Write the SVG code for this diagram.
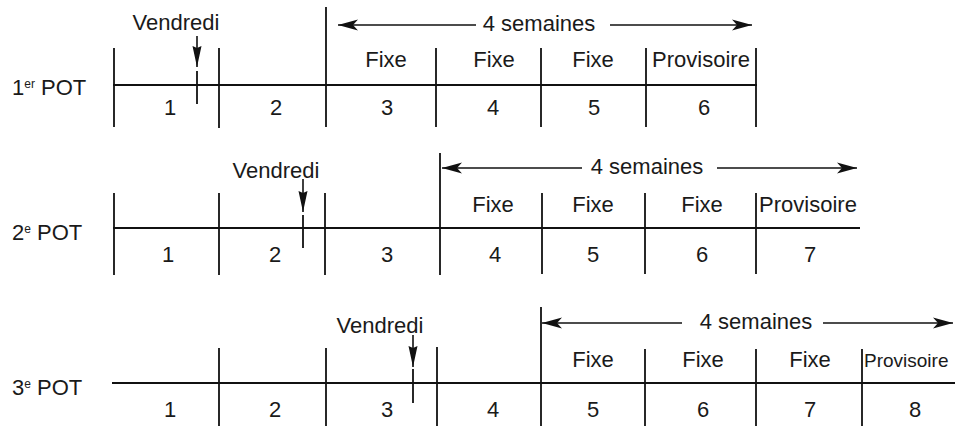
<svg xmlns="http://www.w3.org/2000/svg" width="955" height="426" viewBox="0 0 955 426">
<style>
  .ln { stroke: #111; stroke-width: 1.8; fill: none; }
  .ar { stroke: #111; stroke-width: 1.6; fill: none; marker-end: url(#big); }
  .vd { stroke: #111; stroke-width: 1.6; fill: none; marker-end: url(#small); }
  text { font-family: "Liberation Sans", Arial, sans-serif; font-size: 22px; fill: #1a1a1a; }
  .c { text-anchor: middle; }
  .sup { font-size: 12px; }
  .edge { font-size: 19px; }
</style>
<defs>
  <marker id="big" viewBox="0 0 20 12" refX="20" refY="6" markerWidth="20" markerHeight="12" orient="auto" markerUnits="userSpaceOnUse">
    <path d="M0,0.5 L20,6 L0,11.5 L5,6 Z" fill="#111"/>
  </marker>
  <marker id="small" viewBox="0 0 10 21" refX="5" refY="21" markerWidth="10" markerHeight="21" orient="0" markerUnits="userSpaceOnUse">
    <path d="M0.5,0 L5,2 L9.5,0 L5,21 Z" fill="#111"/>
  </marker>
</defs>

<g id="row1">
  <text x="12" y="95">1<tspan class="sup" dy="-7">er</tspan><tspan dy="7"> POT</tspan></text>
  <line class="ln" x1="113" y1="85" x2="757" y2="85"/>
  <line class="ln" x1="114" y1="48" x2="114" y2="127"/>
  <line class="ln" x1="219" y1="48" x2="219" y2="128"/>
  <line class="ln" x1="326" y1="7" x2="326" y2="127"/>
  <line class="ln" x1="436" y1="48" x2="436" y2="127"/>
  <line class="ln" x1="541" y1="48" x2="541" y2="127"/>
  <line class="ln" x1="646" y1="48" x2="646" y2="127"/>
  <line class="ln" x1="756" y1="48" x2="756" y2="127"/>
  <line class="ln" x1="197" y1="71" x2="197" y2="104"/>
  <text class="c" x="176" y="30">Vendredi</text>
  <text class="c" x="539" y="31">4 semaines</text>
  <text class="c" x="386" y="67">Fixe</text>
  <text class="c" x="494" y="67">Fixe</text>
  <text class="c" x="593" y="67">Fixe</text>
  <text class="c" x="701" y="67">Provisoire</text>
  <text class="c" x="170" y="115">1</text>
  <text class="c" x="276" y="115">2</text>
  <text class="c" x="387" y="115">3</text>
  <text class="c" x="493" y="115">4</text>
  <text class="c" x="594" y="115">5</text>
  <text class="c" x="704" y="115">6</text>
</g>

<g id="row2">
  <text x="12" y="240">2<tspan class="sup" dy="-7">e</tspan><tspan dy="7"> POT</tspan></text>
  <line class="ln" x1="113" y1="228" x2="860" y2="228"/>
  <line class="ln" x1="114" y1="193" x2="114" y2="275"/>
  <line class="ln" x1="219" y1="193" x2="219" y2="275"/>
  <line class="ln" x1="325" y1="193" x2="325" y2="275"/>
  <line class="ln" x1="440" y1="153" x2="440" y2="275"/>
  <line class="ln" x1="542" y1="193" x2="542" y2="274"/>
  <line class="ln" x1="645" y1="193" x2="645" y2="274"/>
  <line class="ln" x1="756" y1="193" x2="756" y2="274"/>
  <line class="ln" x1="303" y1="215" x2="303" y2="248"/>
  <text class="c" x="276" y="178">Vendredi</text>
  <text class="c" x="647" y="174">4 semaines</text>
  <text class="c" x="493" y="212">Fixe</text>
  <text class="c" x="593" y="212">Fixe</text>
  <text class="c" x="702" y="212">Fixe</text>
  <text class="c" x="808" y="212">Provisoire</text>
  <text class="c" x="168" y="262">1</text>
  <text class="c" x="275" y="262">2</text>
  <text class="c" x="387" y="262">3</text>
  <text class="c" x="495" y="262">4</text>
  <text class="c" x="593" y="262">5</text>
  <text class="c" x="702" y="262">6</text>
  <text class="c" x="810" y="262">7</text>
</g>

<g id="row3">
  <text x="12" y="395">3<tspan class="sup" dy="-7">e</tspan><tspan dy="7"> POT</tspan></text>
  <line class="ln" x1="112" y1="383" x2="955" y2="383"/>
  <line class="ln" x1="219" y1="348" x2="219" y2="426"/>
  <line class="ln" x1="326" y1="348" x2="326" y2="426"/>
  <line class="ln" x1="437" y1="347" x2="437" y2="426"/>
  <line class="ln" x1="541" y1="307" x2="541" y2="426"/>
  <line class="ln" x1="645" y1="349" x2="645" y2="426"/>
  <line class="ln" x1="756" y1="349" x2="756" y2="426"/>
  <line class="ln" x1="862" y1="349" x2="862" y2="426"/>
  <line class="ln" x1="413" y1="369" x2="413" y2="403"/>
  <text class="c" x="380" y="333">Vendredi</text>
  <text class="c" x="756" y="329">4 semaines</text>
  <text class="c" x="593" y="367">Fixe</text>
  <text class="c" x="703" y="367">Fixe</text>
  <text class="c" x="810" y="367">Fixe</text>
  <text class="edge" x="864" y="367">Provisoire</text>
  <text class="c" x="170" y="417">1</text>
  <text class="c" x="275" y="417">2</text>
  <text class="c" x="387" y="417">3</text>
  <text class="c" x="493" y="417">4</text>
  <text class="c" x="593" y="417">5</text>
  <text class="c" x="703" y="417">6</text>
  <text class="c" x="810" y="417">7</text>
  <text class="c" x="915" y="417">8</text>
</g>

<g id="connectors">
  <line class="ar" x1="476" y1="25" x2="338" y2="25"/>
  <line class="ar" x1="610" y1="25" x2="752" y2="25"/>
  <line class="vd" x1="197" y1="36" x2="197" y2="67"/>
  <line class="ar" x1="582" y1="168" x2="442" y2="168"/>
  <line class="ar" x1="717" y1="168" x2="857" y2="168"/>
  <line class="vd" x1="303" y1="179" x2="303" y2="212"/>
  <line class="ar" x1="682" y1="323" x2="542" y2="323"/>
  <line class="ar" x1="823" y1="323" x2="953" y2="323"/>
  <line class="vd" x1="413" y1="335" x2="413" y2="367"/>
</g>
</svg>
